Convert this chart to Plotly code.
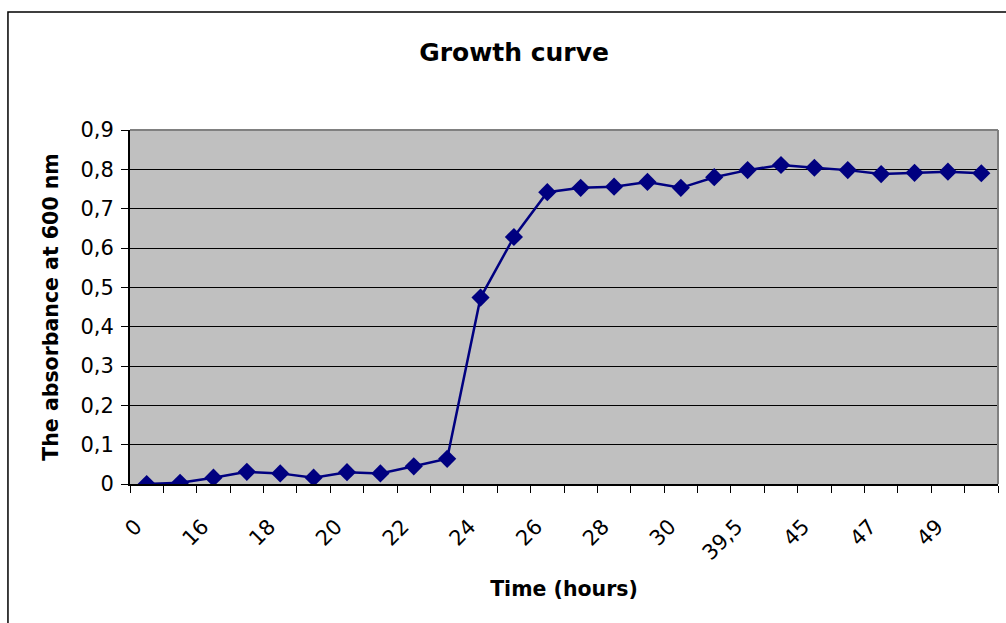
import plotly.graph_objects as go

# Sampling times (hours) and optical density readings
time_points = ["0", "15", "16", "17", "18", "19", "20", "21", "22", "23",
               "24", "25", "26", "27", "28", "29", "30", "31", "39,5", "42",
               "45", "46", "47", "48", "49", "50"]
absorbance = [0.0, 0.003, 0.016, 0.031, 0.027, 0.016, 0.030, 0.027, 0.045, 0.064,
              0.474, 0.628, 0.742, 0.753, 0.756, 0.768, 0.753, 0.780, 0.798, 0.811,
              0.804, 0.798, 0.788, 0.791, 0.794, 0.790]

# Only every other time point carries a label on the axis
tick_text = [t if i % 2 == 0 else "" for i, t in enumerate(time_points)]

FONT = "DejaVu Sans, Arial, sans-serif"

fig = go.Figure()
fig.add_trace(go.Scatter(
    x=time_points,
    y=absorbance,
    mode="lines+markers",
    line=dict(color="#000080", width=2.5),
    marker=dict(symbol="diamond", size=14, color="#000080"),
    showlegend=False,
))

fig.update_layout(
    width=1006,
    height=623,
    margin=dict(l=130, r=8, t=130, b=139),
    paper_bgcolor="white",
    plot_bgcolor="#C0C0C0",
    separators=", ",
    font=dict(family=FONT, color="black", size=20),
    title=dict(
        text="<b>Growth curve</b>",
        x=0.511, xref="container", xanchor="center",
        y=0.9165, yref="container", yanchor="middle",
        font=dict(family=FONT, size=25, color="black"),
    ),
    xaxis=dict(
        type="category",
        tickmode="array",
        tickvals=time_points,
        ticktext=tick_text,
        tickson="boundaries",
        ticks="outside",
        ticklen=7,
        tickwidth=1,
        tickcolor="black",
        tickangle=-45,
        ticklabelstandoff=20,
        ticklabelshift=-11,
        tickfont=dict(family=FONT, size=21),
        showgrid=False,
        showline=True,
        linecolor="black",
        linewidth=2,
        zeroline=False,
        range=[-0.5, len(time_points) - 0.5],
        title=dict(text="<b>Time (hours)</b>", standoff=18,
                   font=dict(family=FONT, size=20.5)),
    ),
    yaxis=dict(
        range=[0, 0.9],
        dtick=0.1,
        tick0=0,
        tickformat=".1~f",
        ticks="outside",
        ticklen=7,
        tickwidth=1,
        tickcolor="black",
        ticklabelstandoff=3,
        tickfont=dict(family=FONT, size=21),
        showgrid=True,
        gridcolor="black",
        gridwidth=1,
        showline=True,
        linecolor="black",
        linewidth=2,
        zeroline=False,
        title=dict(text="<b>The absorbance at 600 nm</b>", standoff=16,
                   font=dict(family=FONT, size=20.5)),
    ),
)

# Gray frame on the top and right of the plot area
fig.add_shape(type="line", xref="paper", yref="paper", x0=0, x1=1, y0=1, y1=1,
              line=dict(color="#808080", width=2), layer="above")
fig.add_shape(type="line", xref="paper", yref="paper", x0=1, x1=1, y0=0, y1=1,
              line=dict(color="#808080", width=2), layer="above")

# Chart border
fig.add_shape(type="rect", xref="paper", yref="paper",
              x0=-0.1406, x1=1.03, y0=-0.45, y1=1.333,
              line=dict(color="black", width=1.5), fillcolor="rgba(0,0,0,0)",
              layer="above")

fig.write_html("out.html")
